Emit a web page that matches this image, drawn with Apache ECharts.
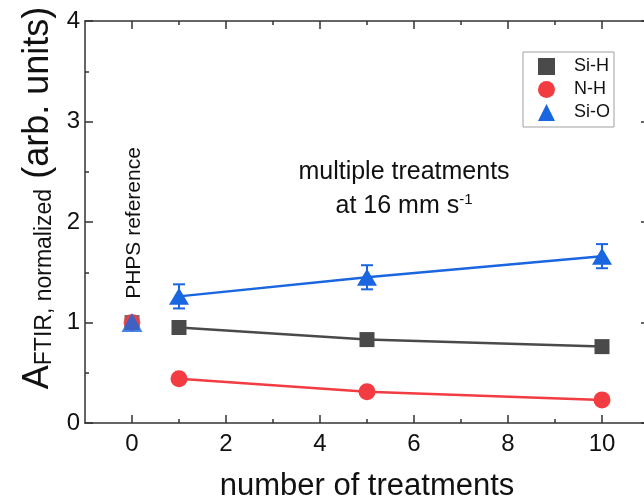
<!DOCTYPE html>
<html>
<head>
<meta charset="utf-8">
<script src="https://cdn.jsdelivr.net/npm/echarts@6/dist/echarts.min.js"></script>
<style>
html, body { margin: 0; padding: 0; background: #fff; }
#main { width: 644px; height: 502px; }
</style>
</head>
<body>
<div id="main"></div>
<script>
var myChart = echarts.init(document.getElementById('main'));

// data
var treatments = [1, 5, 10];
var siH = [0.95, 0.83, 0.76];
var nH = [0.44, 0.31, 0.23];
var siO = [1.26, 1.45, 1.66];
var siOErr = [0.12, 0.12, 0.12];
var refX = 0;                 // PHPS reference, all normalized to 1
var refY = [1, 1, 1];         // Si-H, N-H, Si-O
var names = ['Si-H', 'N-H', 'Si-O'];
var majorTicks = [0, 2, 4, 6, 8, 10];
var minorTicks = [1, 3, 5, 7, 9];

var colorList = ['#4a4a4a', '#f23c41', '#1a66e0'];
var symbols = ['rect', 'circle', 'triangle'];
var symbolSizes = [15, 17, [20, 17]];
var font = 'Liberation Sans, Arial, sans-serif';
var axisColor = '#333';

function pairs(xs, ys) {
    return xs.map(function (x, i) { return [x, ys[i]]; });
}

function xAx(pos, ticks, len, withLine, withLabel) {
    return {
        type: 'value',
        position: pos,
        min: -1,
        max: 11,
        splitLine: { show: false },
        axisLine: { show: withLine, onZero: false, lineStyle: { color: axisColor, width: 1.5 } },
        axisTick: { show: true, inside: true, length: len, customValues: ticks,
            lineStyle: { color: axisColor, width: 1.5 } },
        axisLabel: withLabel ? {
            show: true, customValues: majorTicks, margin: 9,
            color: '#111', fontSize: 24, fontFamily: font
        } : { show: false }
    };
}

function yAx(pos, withLabel) {
    return {
        type: 'value',
        position: pos,
        min: 0,
        max: 4,
        interval: 1,
        splitLine: { show: false },
        minorSplitLine: { show: false },
        axisLine: { show: true, onZero: false, lineStyle: { color: axisColor, width: 1.5 } },
        axisTick: { show: true, inside: true, length: 8, lineStyle: { color: axisColor, width: 1.5 } },
        minorTick: { show: true, splitNumber: 2, length: 4, lineStyle: { color: axisColor, width: 1.5 } },
        axisLabel: withLabel ? {
            show: true, margin: 5, color: '#111', fontSize: 24, fontFamily: font
        } : { show: false }
    };
}

var bottomAxis = xAx('bottom', majorTicks, 8, true, true);
bottomAxis.name = 'number of treatments';
bottomAxis.nameLocation = 'middle';
bottomAxis.nameGap = 48;
bottomAxis.nameTextStyle = { color: '#111', fontSize: 31, fontFamily: font };

var series = [];
for (var i = 0; i < 3; i++) {
    if (i === 2) {
        // error bars of Si-O
        series.push({
            name: names[2],
            type: 'custom',
            xAxisIndex: 0,
            yAxisIndex: 0,
            itemStyle: { color: colorList[2] },
            data: treatments.map(function (x, k) { return [x, siO[k], siOErr[k]]; }),
            encode: { x: 0, y: 1 },
            renderItem: function (params, api) {
                var x = api.value(0), y = api.value(1), e = api.value(2);
                var top = api.coord([x, y + e]);
                var bot = api.coord([x, y - e]);
                var hw = 6;
                var st = { stroke: colorList[2], lineWidth: 2 };
                return {
                    type: 'group',
                    children: [
                        { type: 'line', shape: { x1: top[0], y1: top[1], x2: bot[0], y2: bot[1] }, style: st },
                        { type: 'line', shape: { x1: top[0] - hw, y1: top[1], x2: top[0] + hw, y2: top[1] }, style: st },
                        { type: 'line', shape: { x1: bot[0] - hw, y1: bot[1], x2: bot[0] + hw, y2: bot[1] }, style: st }
                    ]
                };
            }
        });
    }
    series.push({
        name: names[i],
        type: 'line',
        xAxisIndex: 0,
        yAxisIndex: 0,
        data: pairs(treatments, [siH, nH, siO][i]),
        symbol: symbols[i],
        symbolSize: symbolSizes[i],
        showSymbol: true,
        lineStyle: { color: colorList[i], width: 2.5 },
        itemStyle: { color: colorList[i] }
    });
}
// reference points, not joined to the lines
for (var j = 0; j < 3; j++) {
    series.push({
        name: names[j],
        type: 'scatter',
        xAxisIndex: 0,
        yAxisIndex: 0,
        data: [[refX, refY[j]]],
        symbol: symbols[j],
        symbolSize: j === 2 ? [21, 19] : symbolSizes[j],
        itemStyle: { color: colorList[j] }
    });
}

option = {
    backgroundColor: '#fff',
    animation: false,
    grid: { left: 85, right: -5, top: 21, bottom: 79, outerBoundsMode: 'none', containLabel: false },
    legend: {
        orient: 'vertical',
        left: 523,
        top: 52,
        padding: [5, 4, 5, 15],
        itemWidth: 17,
        itemHeight: 17,
        itemGap: 4,
        borderColor: '#a0a0a0',
        borderWidth: 1,
        selectedMode: false,
        data: [
            { name: 'Si-H', icon: 'rect' },
            { name: 'N-H', icon: 'circle' },
            { name: 'Si-O', icon: 'triangle' }
        ],
        textStyle: { color: '#111', fontSize: 18, lineHeight: 19, fontFamily: font, padding: [0, 0, 0, 14] }
    },
    xAxis: [
        bottomAxis,
        xAx('bottom', minorTicks, 4, false, false),
        xAx('top', majorTicks, 8, true, false),
        xAx('top', minorTicks, 4, false, false)
    ],
    yAxis: [yAx('left', true), yAx('right', false)],
    graphic: [
        {
            type: 'text', x: 38, y: 198, rotation: Math.PI / 2,
            style: {
                text: '{a|A}{s|FTIR, normalized}{a| (arb. units)}',
                align: 'center', verticalAlign: 'middle',
                rich: {
                    a: { fontSize: 36, lineHeight: 36, fontFamily: font, fill: '#111', color: '#111' },
                    s: { fontSize: 23, lineHeight: 24, verticalAlign: 'bottom', fontFamily: font, fill: '#111', color: '#111' }
                }
            }
        },
        {
            type: 'text', x: 134, y: 223, rotation: Math.PI / 2,
            style: { text: 'PHPS reference', fontSize: 21, fontFamily: font, fill: '#111',
                align: 'center', verticalAlign: 'middle' }
        },
        {
            type: 'text', x: 404, y: 172,
            style: { text: 'multiple treatments', fontSize: 25, fontFamily: font, fill: '#111',
                align: 'center', verticalAlign: 'middle' }
        },
        {
            type: 'text', x: 404, y: 206,
            style: {
                text: '{a|at 16 mm s}{b|-1}',
                align: 'center', verticalAlign: 'middle',
                rich: {
                    a: { fontSize: 25, lineHeight: 28, fontFamily: font, fill: '#111', color: '#111' },
                    b: { fontSize: 15, lineHeight: 15, verticalAlign: 'top', fontFamily: font, fill: '#111', color: '#111' }
                }
            }
        }
    ],
    series: series
};

myChart.setOption(option);
</script>
</body>
</html>
